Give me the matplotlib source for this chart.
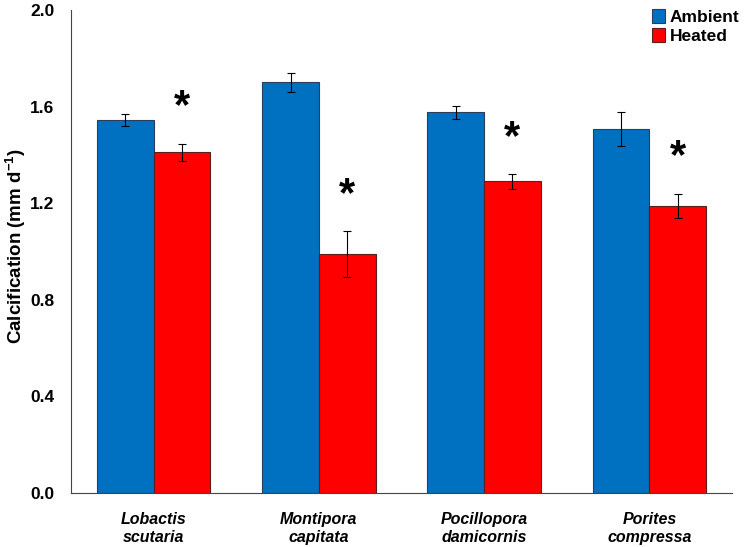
import matplotlib.pyplot as plt
import numpy as np

plt.rcParams['font.family'] = ['Liberation Sans', 'DejaVu Sans']
plt.rcParams['mathtext.fontset'] = 'custom'
plt.rcParams['mathtext.rm'] = 'Liberation Sans:bold'
plt.rcParams['mathtext.bf'] = 'Liberation Sans:bold'

species = ['Lobactis\nscutaria', 'Montipora\ncapitata', 'Pocillopora\ndamicornis', 'Porites\ncompressa']
ambient = [1.544, 1.700, 1.576, 1.507]
ambient_err = [0.025, 0.040, 0.028, 0.070]
heated = [1.410, 0.990, 1.290, 1.190]
heated_err = [0.036, 0.095, 0.030, 0.050]
significant = [True, True, True, True]

x = np.arange(len(species))
w = 0.343

fig = plt.figure(figsize=(7.52, 5.47), dpi=100)
ax = fig.add_axes([0.0944, 0.0987, 0.879, 0.883])

ax.bar(x - w/2, ambient, w, color='#0070C0', edgecolor='#2b3f5c', linewidth=0.8,
       label='Ambient', zorder=2)
ax.bar(x + w/2, heated, w, color='#FF0000', edgecolor='#5a2020', linewidth=0.8,
       label='Heated', zorder=2)
ax.errorbar(x - w/2, ambient, yerr=ambient_err, fmt='none', ecolor='black',
            elinewidth=0.8, capsize=3, capthick=0.8, zorder=3)
ax.errorbar(x + w/2, heated, yerr=heated_err, fmt='none', ecolor='black',
            elinewidth=0.8, capsize=3, capthick=0.8, zorder=3)

# asterisks over heated bars
for i, s in enumerate(significant):
    if s:
        ax.text(x[i] + w/2, heated[i] + heated_err[i] + 0.15, '*', ha='center',
                va='center', fontsize=30, fontweight='bold')

ax.set_xlim(-0.5, 3.5)
ax.set_ylim(0, 2.0)
ax.set_yticks([0.0, 0.4, 0.8, 1.2, 1.6, 2.0])
ax.set_yticklabels(['0.0', '0.4', '0.8', '1.2', '1.6', '2.0'], fontsize=12.5, fontweight='bold')
ax.set_xticks(x)
ax.set_xticklabels(species, fontsize=11.5, fontweight='bold', style='italic')
ax.tick_params(axis='y', length=0, pad=12)
ax.tick_params(axis='x', length=0, pad=14)
fig.text(16/752, 0.55, 'Calcification (mm d$^{-1}$)', fontsize=13.5, fontweight='bold',
         rotation=90, ha='center', va='center')

for sp in ['top', 'right']:
    ax.spines[sp].set_visible(False)
for sp in ['left', 'bottom']:
    ax.spines[sp].set_color('#444444')
    ax.spines[sp].set_linewidth(0.8)

ax.legend(loc='upper right', bbox_to_anchor=(1.035, 1.035), frameon=False,
          prop={'weight': 'bold', 'size': 12.5}, handlelength=0.75, handleheight=0.85,
          handletextpad=0.3, labelspacing=0.2)

fig.savefig('out.png', dpi=100)
